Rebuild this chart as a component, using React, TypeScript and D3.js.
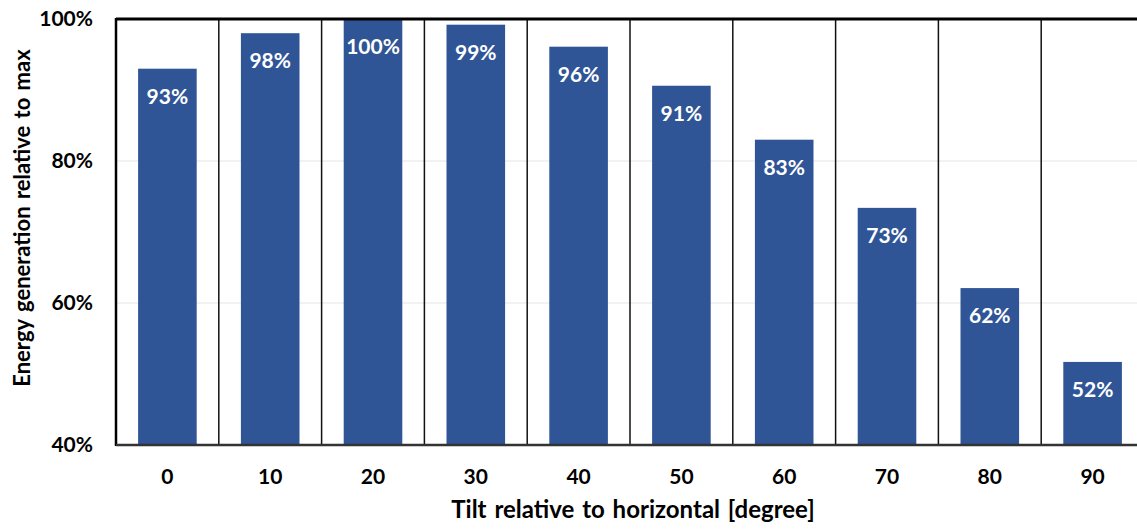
import React from "react";
import * as d3 from "d3";

const categories = ["0", "10", "20", "30", "40", "50", "60", "70", "80", "90"];
const values = [0.93, 0.98, 1.0, 0.992, 0.961, 0.906, 0.83, 0.734, 0.621, 0.517];
const labels = ["93%", "98%", "100%", "99%", "96%", "91%", "83%", "73%", "62%", "52%"];
const yTicks = [0.4, 0.6, 0.8, 1.0];

const W = 1137;
const H = 529;
const M = { left: 116, top: 19, right: 1144, bottom: 445 };
const FONT = "Lato, 'Open Sans', sans-serif";

export default function App() {
  const x = d3.scaleBand<string>().domain(categories).range([M.left, M.right]).paddingInner(0.43).paddingOuter(0.215);
  const xb = d3.scaleBand<string>().domain(categories).range([M.left, M.right]);
  const y = d3.scaleLinear().domain([0.4, 1.0]).range([M.bottom, M.top]);
  const fmt = d3.format(".0%");
  return (
    <svg width={W} height={H} style={{ position: "absolute", left: 0, top: 0, background: "#fff" }}>
      {yTicks.map((t) => (
        <line key={"g" + t} x1={M.left} x2={M.right} y1={y(t)} y2={y(t)} stroke="#eeeeee" strokeWidth={1.5} />
      ))}
      {categories.slice(1).map((c) => (
        <line key={"s" + c} x1={xb(c)!} x2={xb(c)!} y1={M.top} y2={M.bottom} stroke="#111" strokeWidth={1.5} />
      ))}
      {categories.map((c, i) => (
        <rect key={"b" + c} x={x(c)!} y={y(values[i])} width={x.bandwidth()} height={M.bottom - y(values[i])} fill="#2F5597" />
      ))}
      {categories.map((c, i) => (
        <text key={"l" + c} x={x(c)! + x.bandwidth() / 2} y={y(values[i]) + 35} textAnchor="middle" fill="#fff" fontFamily={FONT} fontWeight="bold" fontSize={21}>
          {labels[i]}
        </text>
      ))}
      <line x1={M.left} x2={M.left} y1={M.top - 1} y2={M.bottom + 1} stroke="#000" strokeWidth={2.5} />
      <line x1={M.left} x2={M.right} y1={M.top} y2={M.top} stroke="#000" strokeWidth={3} />
      <line x1={M.left} x2={M.right} y1={M.bottom} y2={M.bottom} stroke="#333" strokeWidth={2.5} />
      {yTicks.map((t) => (
        <text key={"yt" + t} x={93} y={y(t) + 7} textAnchor="end" fill="#000" fontFamily={FONT} fontWeight="bold" fontSize={21}>
          {fmt(t)}
        </text>
      ))}
      {categories.map((c) => (
        <text key={"xt" + c} x={xb(c)! + xb.bandwidth() / 2} y={484} textAnchor="middle" fill="#000" fontFamily={FONT} fontWeight="bold" fontSize={21}>
          {c}
        </text>
      ))}
      <text x={633} y={518} textAnchor="middle" fill="#000" fontFamily={FONT} fontWeight="bold" fontSize={24} wordSpacing={2}>
        Tilt relative to horizontal [degree]
      </text>
      <text transform={`translate(30,218) rotate(-90)`} textAnchor="middle" fill="#000" fontFamily={FONT} fontWeight="bold" fontSize={22} wordSpacing={2}>
        Energy generation relative to max
      </text>
    </svg>
  );
}
